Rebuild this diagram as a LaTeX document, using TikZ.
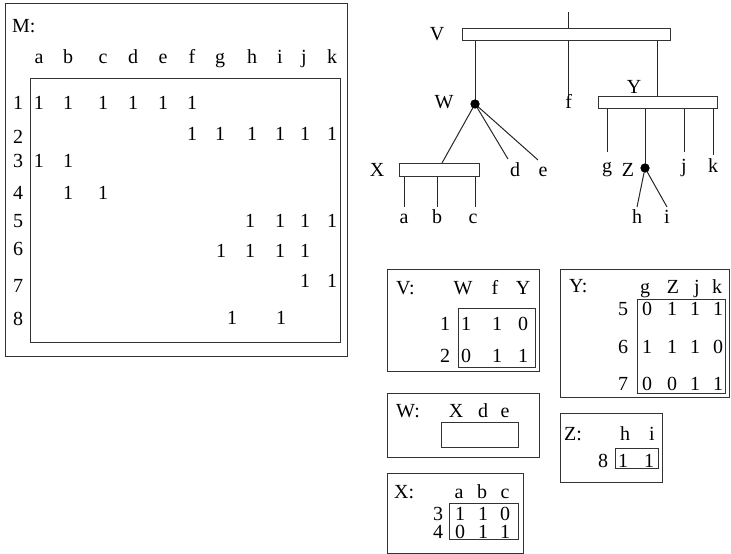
\documentclass[tikz,border=0pt]{standalone}
\usepackage{fontspec}
\setmainfont{Liberation Serif}
\begin{document}
\begin{tikzpicture}[x=1pt,y=-1pt,
  t/.style={inner sep=0pt, anchor=base, font=\fontsize{20}{22}\selectfont},
  tl/.style={t, anchor=base west},
  frame/.style={draw=black!80, line width=1pt},
  bar/.style={draw=black!80, line width=1pt, fill=white, inner sep=0pt},
  edge/.style={draw=black!85, line width=1pt},
  dot/.style={circle, fill=black, inner sep=0pt, minimum size=9pt}]
\useasboundingbox (0,0) rectangle (731,554);

% ---------- matrix M ----------
\draw[frame] (5,3) rectangle (347,356);
\draw[frame] (30,78) rectangle (340,342);
\node[tl] (Mlab) at (12,32) {M:};
\foreach \n/\x in {a/39,b/68,c/103,d/133,e/163,f/192,g/220,h/252,i/280,j/304,k/332}
  \node[t] (Mc-\n) at (\x,63) {\n};
\foreach \r/\y in {1/109,2/143,3/167,4/199,5/227,6/255,7/292,8/325}
  \node[t] (Mr-\r) at (18,\y) {\r};
\foreach \x in {39,68,103,133,163,192} \node[t] at (\x,109) {1};
\foreach \x in {192,220,252,280,305,332} \node[t] at (\x,140) {1};
\foreach \x in {39,68} \node[t] at (\x,167) {1};
\foreach \x in {68,103} \node[t] at (\x,199) {1};
\foreach \x in {250,280,305,332} \node[t] at (\x,227) {1};
\foreach \x in {221,250,280,305} \node[t] at (\x,257) {1};
\foreach \x in {305,332} \node[t] at (\x,287) {1};
\foreach \x in {232,281} \node[t] at (\x,324) {1};

% ---------- tree ----------
\node[bar, minimum width=208pt, minimum height=12pt] (Vb) at (566,34) {};
\node[bar, minimum width=119pt, minimum height=12pt] (Yb) at (657.5,102) {};
\node[bar, minimum width=80pt, minimum height=13pt] (Xb) at (439,169.5) {};
\node[dot] (Wd) at (475,104) {};
\node[dot] (Zd) at (645,168) {};

\coordinate (top) at (568.7,12);
\coordinate (fl) at (568.7,95);
\coordinate (yl) at (657.7,0);
\coordinate (xt) at (442,163);
\coordinate (dl) at (508,159);
\coordinate (el) at (538,160);
\coordinate (gl) at (607,152);
\coordinate (jl) at (684,152);
\coordinate (kl) at (713,155);
\coordinate (hl) at (637,207);
\coordinate (il) at (667,207);
\coordinate (al) at (404,207);
\coordinate (bl) at (437,207);
\coordinate (cl) at (475.7,207);

\draw[edge] (top) -- (top |- Vb.north);
\draw[edge] (Vb.south -| Wd) -- (Wd.center);
\draw[edge] (Vb.south -| fl) -- (fl);
\draw[edge] (Vb.south -| yl) -- (Yb.north -| yl);
\draw[edge] (Wd.center) -- (xt);
\draw[edge] (Wd.center) -- (dl);
\draw[edge] (Wd.center) -- (el);
\draw[edge] (Yb.south -| gl) -- (gl);
\draw[edge] (Yb.south -| Zd) -- (Zd.center);
\draw[edge] (Yb.south -| jl) -- (jl);
\draw[edge] (Yb.south -| kl) -- (kl);
\draw[edge] (Zd.center) -- (hl);
\draw[edge] (Zd.center) -- (il);
\draw[edge] (Xb.south -| al) -- (al);
\draw[edge] (Xb.south -| bl) -- (bl);
\draw[edge] (Xb.south -| cl) -- (cl);
\node[dot] at (Wd) {};
\node[dot] at (Zd) {};

\node[t] (tV) at (437,40) {V};
\node[t] (tW) at (444,108) {W};
\node[t] (tf) at (568.7,108) {f};
\node[t] (tY) at (634,93) {Y};
\node[t] (tX) at (377,176) {X};
\node[t] (td) at (515,176) {d};
\node[t] (te) at (543,176) {e};
\node[t] (tg) at (607,172) {g};
\node[t] (tZ) at (628,176) {Z};
\node[t] (tj) at (684,172) {j};
\node[t] (tk) at (713,172) {k};
\node[t] (th) at (637,223) {h};
\node[t] (ti) at (667,223) {i};
\node[t] (ta) at (404,223) {a};
\node[t] (tb) at (437,223) {b};
\node[t] (tc) at (473,223) {c};

% ---------- V table ----------
\draw[frame] (387,269) rectangle (539,371);
\draw[frame] (458,308) rectangle (535,367);
\node[tl] (Vlab) at (396,294) {V:};
\node[t] at (463,294) {W};
\node[t] at (495,294) {f};
\node[t] at (523,294) {Y};
\node[t] at (445,330) {1};
\node[t] at (445,362) {2};
\node[t] at (466,330) {1}; \node[t] at (497,330) {1}; \node[t] at (523,330) {0};
\node[t] at (466,362) {0}; \node[t] at (497,362) {1}; \node[t] at (523,362) {1};

% ---------- W table ----------
\draw[frame] (387,393) rectangle (539,457);
\draw[frame] (441,422) rectangle (518,447);
\node[tl] (Wlab) at (396,417) {W:};
\node[t] at (456,417) {X};
\node[t] at (483,417) {d};
\node[t] at (505,417) {e};

% ---------- X table ----------
\draw[frame] (387,473) rectangle (523,553);
\draw[frame] (449,503) rectangle (518,539);
\node[tl] (Xlab) at (394,498) {X:};
\node[t] at (459,498) {a};
\node[t] at (482,498) {b};
\node[t] at (505,498) {c};
\node[t] at (438,520) {3};
\node[t] at (438,538) {4};
\node[t] at (460,520) {1}; \node[t] at (483,520) {1}; \node[t] at (505,520) {0};
\node[t] at (460,538) {0}; \node[t] at (483,538) {1}; \node[t] at (505,538) {1};

% ---------- Y table ----------
\draw[frame] (560,269) rectangle (729.5,397);
\draw[frame] (637,299) rectangle (725,393);
\node[tl] (Ylab) at (569,292) {Y:};
\node[t] at (645,293) {g};
\node[t] at (673,293) {Z};
\node[t] at (697,293) {j};
\node[t] at (717,293) {k};
\node[t] at (623,315) {5};
\node[t] at (623,353) {6};
\node[t] at (623,390) {7};
\node[t] at (647,315) {0}; \node[t] at (672,315) {1}; \node[t] at (695,315) {1}; \node[t] at (718,315) {1};
\node[t] at (647,353) {1}; \node[t] at (672,353) {1}; \node[t] at (695,353) {1}; \node[t] at (718,353) {0};
\node[t] at (647,390) {0}; \node[t] at (672,390) {0}; \node[t] at (695,390) {1}; \node[t] at (718,390) {1};

% ---------- Z table ----------
\draw[frame] (560,413) rectangle (662,482);
\draw[frame] (615,448) rectangle (658,468);
\node[tl] (Zlab) at (564,440) {Z:};
\node[t] at (625,440) {h};
\node[t] at (652,440) {i};
\node[t] at (603,467) {8};
\node[t] at (623,467) {1}; \node[t] at (649,467) {1};
\end{tikzpicture}
\end{document}
